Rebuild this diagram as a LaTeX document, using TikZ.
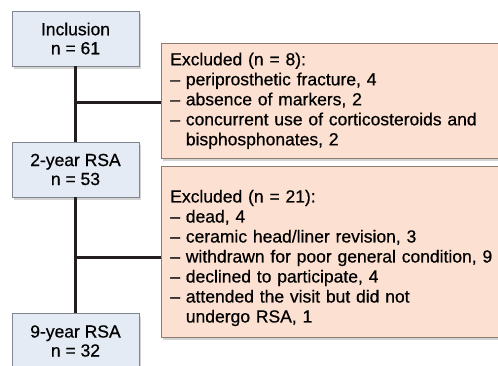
\documentclass[tikz,border=0pt]{standalone}
\usepackage{fontspec}
\setmainfont{Liberation Sans}[FakeBold=0.6]
\usetikzlibrary{positioning,calc,shadows}
\definecolor{stagefill}{HTML}{E4EBF5}
\definecolor{stageline}{HTML}{7F8690}
\definecolor{exclfill}{HTML}{FCE1D2}
\definecolor{exclline}{HTML}{8C7C72}
\definecolor{flowline}{HTML}{231F20}

\begin{document}
\begin{tikzpicture}[
    x=1pt, y=1pt,
    line width=0.6pt,
    stage/.style = {draw=stageline, fill=stagefill, minimum width=127pt,
                    minimum height=55pt, align=center, inner sep=2pt,
                    font=\fontsize{17.5}{19}\selectfont,
                    drop shadow={shadow xshift=2pt, shadow yshift=-3pt, opacity=0.35}},
    excl/.style  = {draw=exclline, fill=exclfill, text width=325pt,
                    align=left, inner xsep=9pt, inner ysep=6pt, anchor=north west,
                    font=\fontsize{17.5}{20}\selectfont,
                    drop shadow={shadow xshift=2pt, shadow yshift=-3pt, opacity=0.35}},
    flow/.style  = {draw=flowline, line width=3pt},
  ]
  \useasboundingbox (0,0) rectangle (498,-366);

  % --- Stages ----------------------------------------------------------
  \node[stage] (incl) at (75.5,-38.5) {Inclusion\\n = 61};
  \node[stage] (rsa2) at (75.5,-169.5) {2-year RSA\\n = 53};
  \node[stage] (rsa9) at (75.5,-341) {9-year RSA\\n = 32};

  % --- Exclusions ------------------------------------------------------
  \node[excl, minimum height=115pt] (exc1) at (161,-43)
    {Excluded (n = 8):\\
     – periprosthetic fracture, 4\\
     – absence of markers, 2\\
     – concurrent use of corticosteroids and\\
     \phantom{– }bisphosphonates, 2};
  \node[excl, minimum height=171pt] (exc2) at (161,-166)
    {\rule{0pt}{25pt}Excluded (n = 21):\\
     – dead, 4\\
     – ceramic head/liner revision, 3\\
     – withdrawn for poor general condition, 9\\
     – declined to participate, 4\\
     – attended the visit but did not\\
     \phantom{– }undergo RSA, 1};

  % --- Flow lines ------------------------------------------------------
  \coordinate (tap1) at ($(exc1.west)+(0,-1.5)$);
  \coordinate (tap2) at ($(exc2.west)+(0,-5.5)$);
  \draw[flow] (incl.south) -- (rsa2.north);
  \draw[flow] (rsa2.south) -- (rsa9.north);
  \draw[flow] (incl.south |- tap1) -- (tap1);
  \draw[flow] (rsa2.south |- tap2) -- (tap2);

\end{tikzpicture}
\end{document}
